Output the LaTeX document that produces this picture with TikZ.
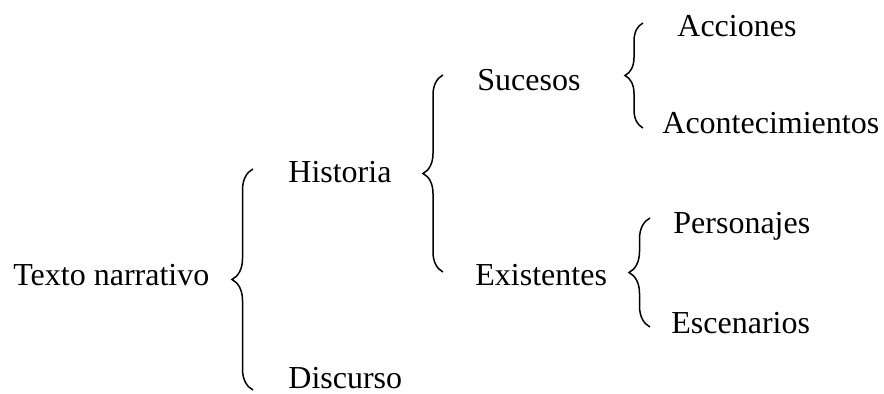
\documentclass[tikz,border=0pt]{standalone}
\usepackage{fontspec}
\setmainfont{Liberation Serif}
\usepackage{tikz}
\usetikzlibrary{decorations.pathreplacing}

\begin{document}
\begin{tikzpicture}[x=0.5pt, y=-0.5pt,   % one unit = one pixel of the layout
    term/.style={
        anchor=base west,
        inner sep=0pt,
        font=\fontsize{16}{19}\selectfont
    },
    brc/.style={
        draw=black,
        line width=0.75pt,
        decorate,
        decoration={brace, amplitude=#1}
    },
    brc/.default=10pt
]
    \useasboundingbox (0,0) rectangle (884,394);

    % 1. The terms
    \node [term] (Texto) at (13,286) {Texto narrativo};
    \node [term] (Historia) at (288,183) {Historia};
    \node [term] (Discurso) at (288,389) {Discurso};
    \node [term] (Sucesos) at (477,91) {Sucesos};
    \node [term] (Existentes) at (475,286) {Existentes};
    \node [term] (Acciones) at (677,37) {Acciones};
    \node [term] (Acontec) at (662,134) {Acontecimientos};
    \node [term] (Personajes) at (673,234) {Personajes};
    \node [term] (Escenarios) at (671,334) {Escenarios};

    % 2. The brace ends
    \coordinate (TextoBot) at (253,390);
    \coordinate (TextoTop) at (253,169);
    \coordinate (HistBot) at (443,272);
    \coordinate (HistTop) at (443,75);
    \coordinate (SucBot) at (643,128);
    \coordinate (SucTop) at (643,23);
    \coordinate (ExistBot) at (650,327);
    \coordinate (ExistTop) at (650,218);

    % The braces
    \draw [brc=10.5pt] (TextoBot) -- (TextoTop);
    \draw [brc=10pt] (HistBot) -- (HistTop);
    \draw [brc=9pt] (SucBot) -- (SucTop);
    \draw [brc=10.5pt] (ExistBot) -- (ExistTop);

\end{tikzpicture}
\end{document}
